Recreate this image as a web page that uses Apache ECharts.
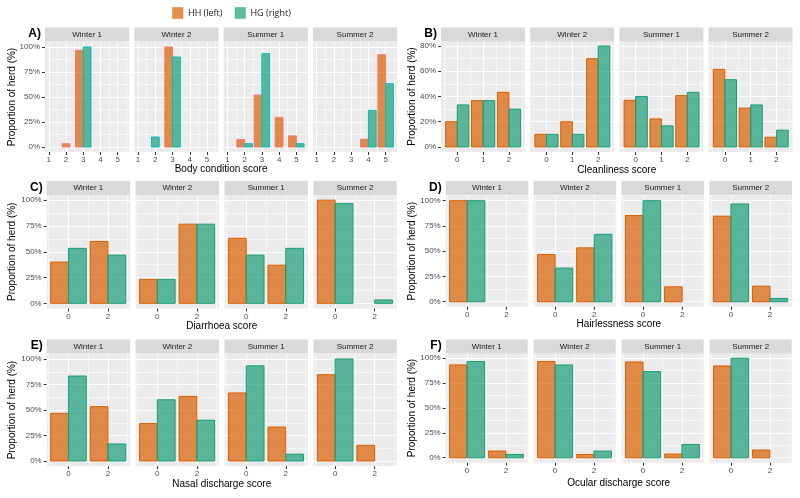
<!DOCTYPE html>
<html>
<head>
<meta charset="utf-8">
<script src="https://cdn.jsdelivr.net/npm/echarts@6/dist/echarts.min.js"></script>
<style>html,body{margin:0;padding:0;background:#fff}#c{width:800px;height:498px}</style>
</head>
<body>
<div id="c"></div>
<script>
// ---------- DATA ----------
const seasons = ['Winter 1', 'Winter 2', 'Summer 1', 'Summer 2'];
const groups = ['HH (left)', 'HG (right)'];

// A) Body condition score (1-5)
const bcsScores = [1, 2, 3, 4, 5];
const bcsHH = [[null, 3.3, 96.7, null, null], [null, null, 100, null, null], [null, 7.4, 51.9, 29.6, 11.1], [null, null, null, 7.7, 92.3]];
const bcsHG = [[null, null, 100, null, null], [null, 10, 90, null, null], [null, 3.3, 93.3, null, 3.3], [null, null, null, 36.7, 63.3]];

// B) Cleanliness score (0-2)
const cleanScores = [0, 1, 2];
const cleanHH = [[20, 36.7, 43.3], [10, 20, 70], [37, 22.2, 40.7], [61.5, 30.8, 7.7]];
const cleanHG = [[33.3, 36.7, 30], [10, 10, 80], [40, 16.7, 43.3], [53.3, 33.3, 13.3]];

// C-F) scores 0 / 2
const binScores = [0, 2];
const diarHH = [[40, 60], [23.3, 76.7], [63, 37], [100, null]];
const diarHG = [[53.3, 46.7], [23.3, 76.7], [46.7, 53.3], [96.7, 3.3]];
const hairHH = [[100, null], [46.7, 53.3], [85.2, 14.8], [84.6, 15.4]];
const hairHG = [[100, null], [33.3, 66.7], [100, null], [96.7, 3.3]];
const nasalHH = [[46.7, 53.3], [36.7, 63.3], [66.7, 33.3], [84.6, 15.4]];
const nasalHG = [[83.3, 16.7], [60, 40], [93.3, 6.7], [100, null]];
const ocularHH = [[93.3, 6.7], [96.7, 3.3], [96.3, 3.7], [92.3, 7.7]];
const ocularHG = [[96.7, 3.3], [93.3, 6.7], [86.7, 13.3], [100, null]];

// tick labels / gridline positions
const pctTicks = [0, 25, 50, 75, 100];
const pctMinor = [12.5, 37.5, 62.5, 87.5];
const cleanPctTicks = [0, 20, 40, 60, 80];
const cleanPctMinor = [10, 30, 50, 70];
const bcsMinor = [1.5, 2.5, 3.5, 4.5, 5.5];
const cleanMinor = [-0.5, 0.5, 1.5, 2.5];
const binMinor = [-1, 1, 3];

// ---------- STYLE / LAYOUT ----------
const FONT = '"Liberation Sans", Arial, sans-serif';
const HH_FILL = 'rgba(217,95,2,0.7)', HG_FILL = 'rgba(27,158,119,0.7)';
const HH_EDGE = '#D95F02', HG_EDGE = '#1B9E77';

const blocks = [
  {lab: 'A)', scores: bcsScores, hh: bcsHH, hg: bcsHG, title: 'Body condition score',
   xMin: 0.78, xMax: 5.67, xMinor: bcsMinor, yTicks: pctTicks, yMinor: pctMinor, yMin: -5, yMax: 105,
   res: 1, center: true, edges: ['#F8766D', '#00BFC4'],
   L: {left: 45, step: 89.3, width: 84.3, top: 42, height: 110, stripTop: 27.5, titleY: 169.5, yTitleX: 12.7}},
  {lab: 'B)', scores: cleanScores, hh: cleanHH, hg: cleanHG, title: 'Cleanliness score',
   xMin: -0.63, xMax: 2.62, xMinor: cleanMinor, yTicks: cleanPctTicks, yMinor: cleanPctMinor, yMin: -4, yMax: 84,
   res: 1, center: false, edges: [HH_EDGE, HG_EDGE],
   L: {left: 441, step: 89.2, width: 84, top: 41, height: 111, stripTop: 27.5, titleY: 170.5, yTitleX: 412.7}},
  {lab: 'C)', scores: binScores, hh: diarHH, hg: diarHG, title: 'Diarrhoea score',
   xMin: -1.1, xMax: 3.12, xMinor: binMinor, yTicks: pctTicks, yMinor: pctMinor, yMin: -5, yMax: 105,
   res: 2, center: false, edges: [HH_EDGE, HG_EDGE],
   L: {left: 46.7, step: 88.9, width: 83.4, top: 195, height: 113.5, stripTop: 181, titleY: 326.5, yTitleX: 12}},
  {lab: 'D)', scores: binScores, hh: hairHH, hg: hairHG, title: 'Hairlessness score',
   xMin: -1.1, xMax: 3.12, xMinor: binMinor, yTicks: pctTicks, yMinor: pctMinor, yMin: -5, yMax: 105,
   res: 2, center: false, edges: [HH_EDGE, HG_EDGE],
   L: {left: 445.7, step: 87.9, width: 82.6, top: 195.6, height: 111.2, stripTop: 181, titleY: 324.7, yTitleX: 412}},
  {lab: 'E)', scores: binScores, hh: nasalHH, hg: nasalHG, title: 'Nasal discharge score',
   xMin: -1.1, xMax: 3.12, xMinor: binMinor, yTicks: pctTicks, yMinor: pctMinor, yMin: -5, yMax: 105,
   res: 2, center: false, edges: [HH_EDGE, HG_EDGE],
   L: {left: 46.7, step: 88.9, width: 83.4, top: 353.9, height: 112.2, stripTop: 339.5, titleY: 484.5, yTitleX: 12}},
  {lab: 'F)', scores: binScores, hh: ocularHH, hg: ocularHG, title: 'Ocular discharge score',
   xMin: -1.1, xMax: 3.12, xMinor: binMinor, yTicks: pctTicks, yMinor: pctMinor, yMin: -5, yMax: 105,
   res: 2, center: false, edges: [HH_EDGE, HG_EDGE],
   L: {left: 445.7, step: 88, width: 82, top: 353.3, height: 109.4, stripTop: 339.5, titleY: 483, yTitleX: 412}}
];
const STRIP_H = 14;

function buildData(scores, own, other, side, center) {
  const out = [];
  scores.forEach((s, i) => {
    if (own[i] == null) return;
    const sd = (center && other[i] == null) ? 0 : side;
    out.push([s, own[i], sd]);
  });
  return out;
}
function makeRender(w, fill, stroke) {
  return function (params, api) {
    const x = api.value(0), y = api.value(1), sd = api.value(2);
    const x0 = sd < 0 ? x - w : (sd > 0 ? x : x - w / 2);
    const p0 = api.coord([x0, 0]), p1 = api.coord([x0 + w, y]);
    return {type: 'rect', shape: {x: p0[0], y: p1[1], width: p1[0] - p0[0], height: p0[1] - p1[1]},
            style: {fill: fill, stroke: stroke, lineWidth: 1}};
  };
}

const grid = [], xAxis = [], yAxis = [], series = [], graphic = [];
blocks.forEach(b => {
  const L = b.L;
  seasons.forEach((season, si) => {
    const g = grid.length;
    const left = L.left + si * L.step;
    grid.push({left: left, top: L.top, width: L.width, height: L.height, show: true,
               backgroundColor: '#EBEBEB', borderWidth: 0, containLabel: false});
    // major x
    xAxis.push({gridIndex: g, type: 'value', min: b.xMin, max: b.xMax, position: 'bottom',
      axisLine: {show: false, onZero: false},
      axisTick: {show: true, customValues: b.scores, length: 3, lineStyle: {color: '#333333', width: 1}},
      axisLabel: {customValues: b.scores, color: '#4D4D4D', fontSize: 8, fontFamily: FONT, margin: 4},
      splitLine: {show: true, lineStyle: {color: '#FFFFFF', width: 1.1}}});
    // minor x
    xAxis.push({gridIndex: g, type: 'value', min: b.xMin, max: b.xMax, position: 'top',
      axisLine: {show: false, onZero: false}, axisTick: {show: false, customValues: b.xMinor},
      axisLabel: {show: false, customValues: b.xMinor},
      splitLine: {show: true, lineStyle: {color: '#FFFFFF', width: 0.5}}});
    const first = si === 0;
    yAxis.push({gridIndex: g, type: 'value', min: b.yMin, max: b.yMax, position: 'left',
      axisLine: {show: false, onZero: false},
      axisTick: {show: first, customValues: b.yTicks, length: 3, lineStyle: {color: '#333333', width: 1}},
      axisLabel: {show: first, customValues: b.yTicks, formatter: '{value}%', color: '#4D4D4D', fontSize: 8, fontFamily: FONT, margin: 5},
      splitLine: {show: true, lineStyle: {color: '#FFFFFF', width: 1.1}}});
    yAxis.push({gridIndex: g, type: 'value', min: b.yMin, max: b.yMax, position: 'right',
      axisLine: {show: false, onZero: false}, axisTick: {show: false, customValues: b.yMinor},
      axisLabel: {show: false, customValues: b.yMinor},
      splitLine: {show: true, lineStyle: {color: '#FFFFFF', width: 0.5}}});
    const xi = xAxis.length - 2, yi = yAxis.length - 2;
    const w = 0.45 * b.res;
    series.push({type: 'custom', name: groups[0], xAxisIndex: xi, yAxisIndex: yi, clip: false,
      encode: {x: 0, y: 1}, itemStyle: {color: HH_FILL},
      renderItem: makeRender(w, HH_FILL, b.edges[0]),
      data: buildData(b.scores, b.hh[si], b.hg[si], -1, b.center)});
    series.push({type: 'custom', name: groups[1], xAxisIndex: xi, yAxisIndex: yi, clip: false,
      encode: {x: 0, y: 1}, itemStyle: {color: HG_FILL},
      renderItem: makeRender(w, HG_FILL, b.edges[1]),
      data: buildData(b.scores, b.hg[si], b.hh[si], 1, b.center)});
    // strip
    graphic.push({type: 'rect', shape: {x: left, y: L.stripTop, width: L.width, height: STRIP_H},
      style: {fill: '#D9D9D9'}, silent: true});
    graphic.push({type: 'text', x: left + L.width / 2, y: L.stripTop + STRIP_H / 2,
      style: {text: season, fill: '#1A1A1A', font: '8px ' + FONT, align: 'center', verticalAlign: 'middle'}, silent: true});
  });
  const right = L.left + 3 * L.step + L.width;
  graphic.push({type: 'text', x: L.left - 4, y: L.stripTop + STRIP_H / 2 - 0.5,
    style: {text: b.lab, fill: '#000', font: 'bold 12px ' + FONT, align: 'right', verticalAlign: 'middle'}, silent: true});
  graphic.push({type: 'text', x: (L.left + right) / 2, y: L.titleY,
    style: {text: b.title, fill: '#000', font: '10px ' + FONT, align: 'center', verticalAlign: 'middle'}, silent: true});
  graphic.push({type: 'text', x: L.yTitleX, y: L.top + L.height / 2, rotation: Math.PI / 2,
    style: {text: 'Proportion of herd (%)', fill: '#000', font: '10px ' + FONT, align: 'center', verticalAlign: 'middle'}, silent: true});
});

const chart = echarts.init(document.getElementById('c'), null, {renderer: 'canvas'});
chart.setOption({
  animation: false,
  backgroundColor: '#FFFFFF',
  legend: {
    left: 172, top: 7, padding: 0, itemWidth: 10.5, itemHeight: 11, itemGap: 12, icon: 'rect',
    selectedMode: false,
    textStyle: {fontFamily: '"Open Sans", ' + FONT, fontSize: 9, color: '#222'},
    data: [
      {name: groups[0], itemStyle: {color: HH_FILL, borderColor: 'rgba(217,95,2,0.35)', borderWidth: 1}},
      {name: groups[1], itemStyle: {color: HG_FILL, borderColor: 'rgba(27,158,119,0.35)', borderWidth: 1}}
    ]
  },
  grid: grid, xAxis: xAxis, yAxis: yAxis, series: series, graphic: graphic
});
</script>
</body>
</html>
